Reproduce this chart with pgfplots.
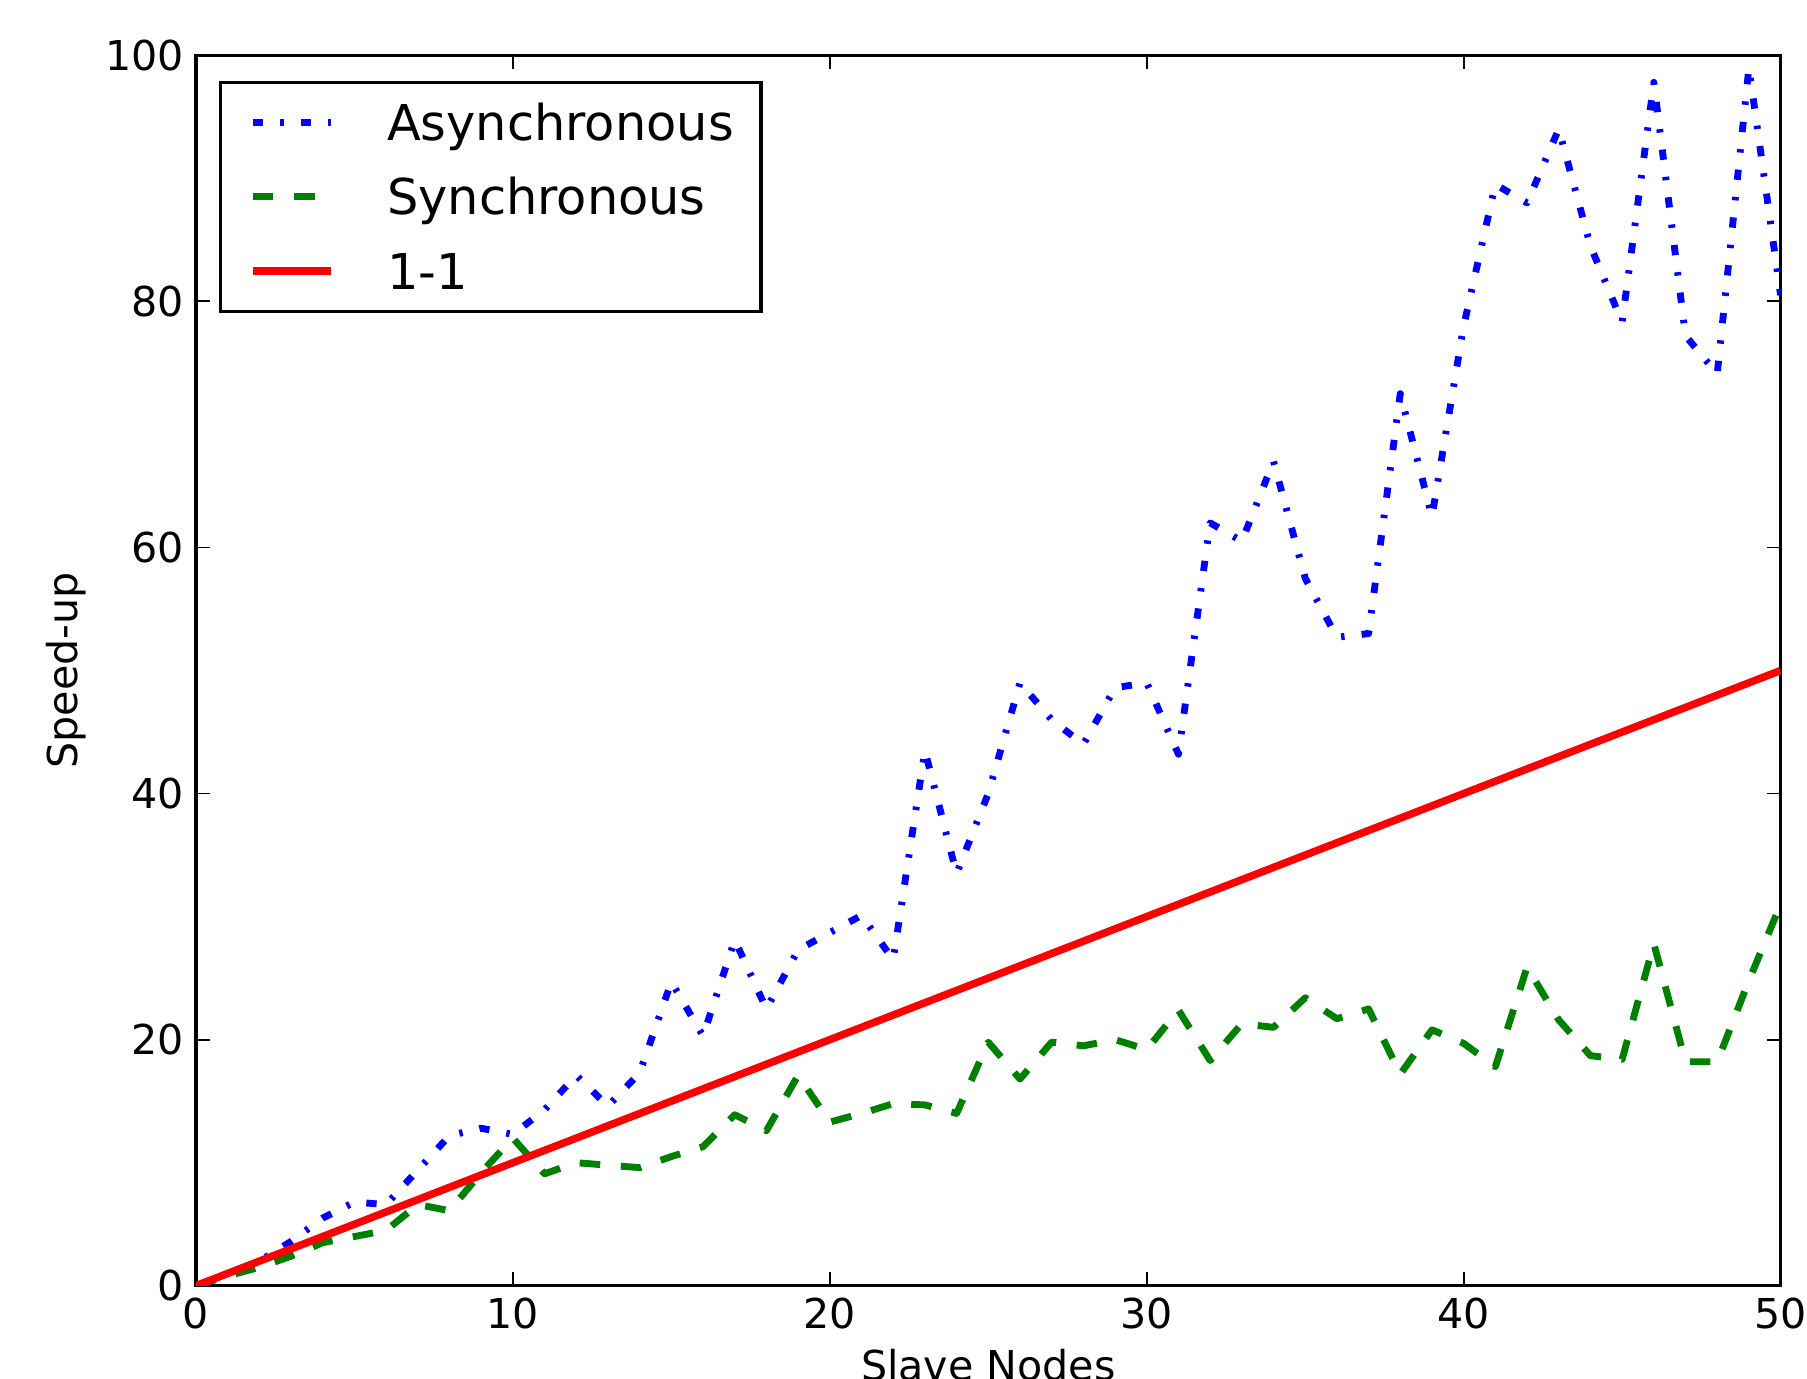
\documentclass[border=0pt]{standalone}
\usepackage{fontspec}
\setmainfont{DejaVu Sans}
\usepackage{pgfplots}
\pgfplotsset{compat=1.18}

\definecolor{mplblue}{rgb}{0,0,1}
\definecolor{mplgreen}{rgb}{0,0.5,0}
\definecolor{mplred}{rgb}{1,0,0}

\begin{document}
\begin{tikzpicture}
\begin{axis}[
  scale only axis,
  width=461.8pt, height=358.6pt,
  xmin=0, xmax=50, ymin=0, ymax=100,
  xtick={0,10,...,50}, ytick={0,20,...,100},
  minor tick num=0,
  tick align=inside,
  major tick length=4pt,
  every tick/.style={black, line width=0.5pt},
  axis line style={line width=1pt},
  tick label style={font=\fontsize{12}{14}\selectfont},
  /pgf/number format/assume math mode=true,
  xlabel={Slave Nodes},
  ylabel={Speed-up},
  xlabel style={font=\fontsize{12}{14}\selectfont, at={(axis description cs:0.5,-0.0512)}, anchor=north, inner sep=0pt},
  ylabel style={font=\fontsize{12}{14}\selectfont, at={(axis description cs:-0.0817,0.5)}, anchor=center, inner sep=0pt},
  legend cell align=left,
  legend style={at={(rel axis cs:0,1)}, anchor=north west, xshift=6.7pt, yshift=-7.4pt,
    draw=black, line width=1pt, inner xsep=8pt, inner ysep=6.4pt,
    row sep=11.2pt, column sep=15.1pt,
    font=\fontsize{14.4}{17}\selectfont,
    nodes={inner sep=0pt, text height=10.5pt, text depth=0pt}},
  legend image code/.code={\path (0pt,0pt); \draw[#1] (0.3pt,0pt) -- (23.2pt,0pt);},
]

% asynchronous
\addplot[color=mplblue, line width=2pt, line join=round,
  dash pattern=on 3pt off 5pt on 1pt off 5pt] coordinates {
(0,0) (1,1.0) (2,2.0) (3,3.6) (4,5.5) (5,6.8) (6,6.6) (7,9.4) (8,12.2) (9,12.8)
(10,12.3) (11,14.3) (12,17.1) (13,14.6) (14,17.3) (15,24.7) (16,20.3) (17,28.1) (18,22.5) (19,27.3)
(20,28.7) (21,30.1) (22,26.5) (23,43.5) (24,33.5) (25,40.0) (26,49.0) (27,46.0) (28,44.0) (29,48.6)
(30,49.0) (31,43.2) (32,62.0) (33,60.5) (34,67.0) (35,57.5) (36,52.7) (37,53.0) (38,72.5) (39,62.5)
(40,78.0) (41,89.5) (42,88.0) (43,94.0) (44,84.5) (45,78.3) (46,97.8) (47,77.2) (48,74.1) (49,99.0)
(50,80.5)
};
\addlegendentry{Asynchronous}

% synchronous
\addplot[color=mplgreen, line width=2pt, line join=round,
  dash pattern=on 6pt off 6pt] coordinates {
(0,0) (1,0.8) (2,1.5) (3,2.4) (4,3.5) (5,4.0) (6,4.5) (7,6.6) (8,6.1) (9,9.2)
(10,12.0) (11,9.1) (12,10.0) (13,9.8) (14,9.6) (15,10.5) (16,11.3) (17,13.9) (18,12.6) (19,17.1)
(20,13.3) (21,14.0) (22,14.8) (23,14.7) (24,14.0) (25,19.8) (26,16.8) (27,19.8) (28,19.5) (29,20.0)
(30,19.2) (31,22.4) (32,18.3) (33,21.3) (34,21.0) (35,23.4) (36,21.7) (37,22.5) (38,17.2) (39,20.8)
(40,19.7) (41,17.8) (42,25.9) (43,21.6) (44,18.7) (45,18.4) (46,27.8) (47,18.2) (48,18.2) (49,24.8)
(50,31.0)
};
\addlegendentry{Synchronous}

% one to one
\addplot[color=mplred, line width=2.2pt] coordinates {(0,0) (50,50)};
\addlegendentry{1-1}

\end{axis}
\pgfresetboundingbox
\path[use as bounding box] ([xshift=-57.1pt,yshift=-26.9pt]current axis.south west)
  rectangle ([xshift=7.7pt,yshift=16.1pt]current axis.north east);
\end{tikzpicture}
\end{document}
